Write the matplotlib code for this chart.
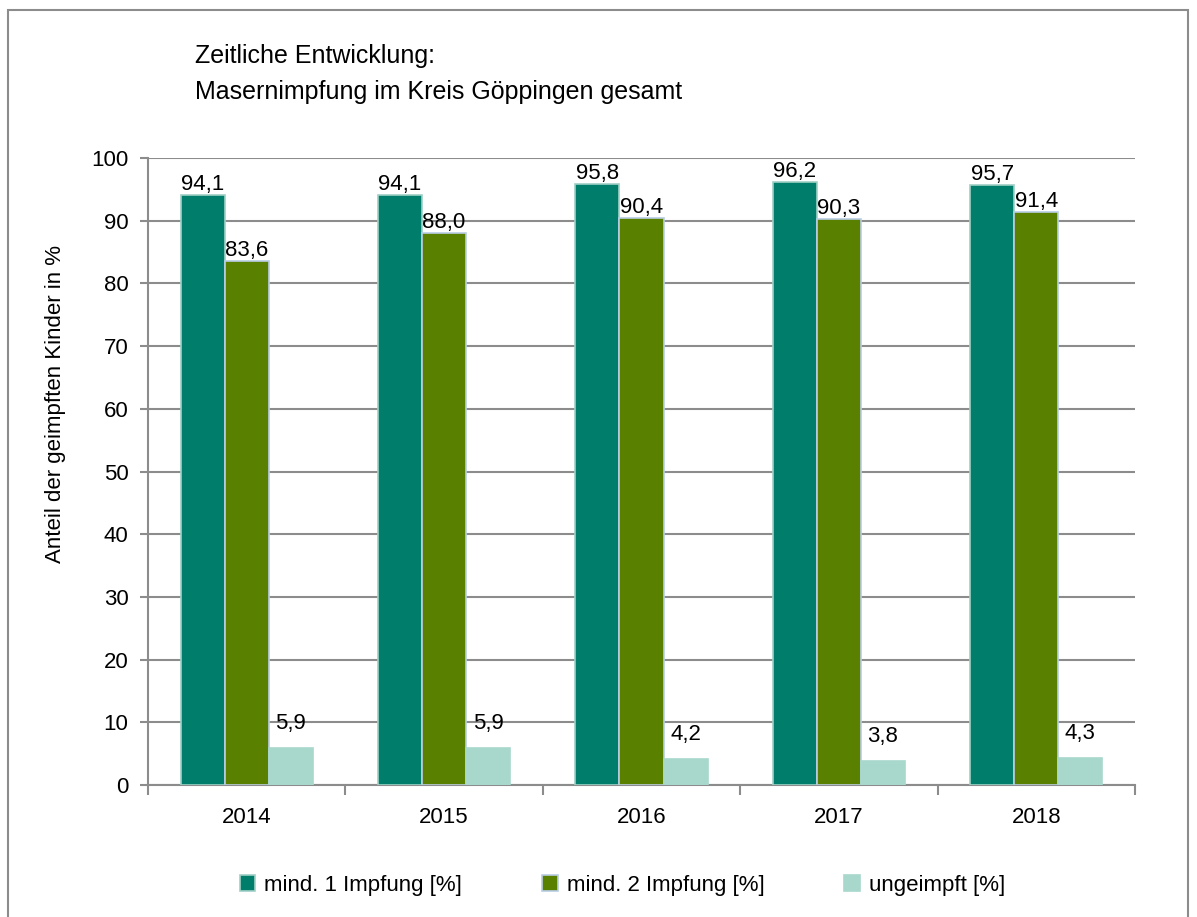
import matplotlib.pyplot as plt
import numpy as np
from matplotlib.patches import Rectangle

plt.rcParams['font.family'] = ['Liberation Sans', 'DejaVu Sans']

# Daten
years = ['2014', '2015', '2016', '2017', '2018']
mind1 = [94.1, 94.1, 95.8, 96.2, 95.7]
mind2 = [83.6, 88.0, 90.4, 90.3, 91.4]
ungeimpft = [5.9, 5.9, 4.2, 3.8, 4.3]
series_names = ['mind. 1 Impfung [%]', 'mind. 2 Impfung [%]', 'ungeimpft [%]']

colors = ['#007d6b', '#5a8000', '#a8d8cc']
edges = ['#9fd0c6', '#b9cde5', '#a8d8cc']

fig = plt.figure(figsize=(11.97, 9.17), dpi=100)
fig.patches.append(Rectangle((8 / 1197, -0.01), 1180 / 1197, 1 - 10 / 917 + 0.01,
                             transform=fig.transFigure, fill=False,
                             edgecolor='#8c8c8c', linewidth=1.5))

ax = fig.add_axes([148 / 1197, 1 - 785 / 917, (1135 - 148) / 1197, (785 - 158) / 917])

x = np.arange(len(years))
w = 0.223
offsets = [0, 0, 10]
for i, vals in enumerate([mind1, mind2, ungeimpft]):
    pos = x + (i - 1) * w
    ax.bar(pos, vals, width=w, color=colors[i], edgecolor=edges[i], linewidth=1.2,
           label=series_names[i], zorder=3)
    for p, v in zip(pos, vals):
        ax.annotate(f'{v:.1f}'.replace('.', ','), (p, v), xytext=(0, offsets[i]),
                    textcoords='offset points', ha='center', va='bottom',
                    fontsize=16, zorder=4)

ax.set_xlim(-0.5, len(years) - 0.5)
ax.set_ylim(0, 100)
ax.set_yticks(range(0, 101, 10))
ax.set_xticks(x)
ax.set_xticklabels(years)
ax.set_xticks(np.arange(-0.5, len(years), 1), minor=True)
ax.tick_params(axis='x', which='major', length=0, labelsize=16, pad=16)
ax.tick_params(axis='x', which='minor', length=7, color='#8c8c8c', width=1.5)
ax.tick_params(axis='y', length=6, color='#8c8c8c', width=1.5, labelsize=16, pad=8)
ax.yaxis.grid(True, color='#8c8c8c', linewidth=1.5, zorder=0)
for s in ['top', 'right']:
    ax.spines[s].set_visible(False)
for s in ['left', 'bottom']:
    ax.spines[s].set_color('#8c8c8c')
    ax.spines[s].set_linewidth(1.5)

ax.set_ylabel('Anteil der geimpften Kinder in %', fontsize=16)
ax.yaxis.set_label_coords(-82 / 987, 0.608)

fig.text(195 / 1197, 1 - 56 / 917, 'Zeitliche Entwicklung:', fontsize=18, va='center')
fig.text(195 / 1197, 1 - 92 / 917, 'Masernimpfung im Kreis Göppingen gesamt', fontsize=18, va='center')

fig.legend(loc='center', bbox_to_anchor=(0.52, 1 - 885 / 917), ncol=3, frameon=False,
           fontsize=16, handlelength=0.7, handleheight=0.7, handletextpad=0.4,
           columnspacing=3.6)

plt.savefig('out.png', dpi=100)
